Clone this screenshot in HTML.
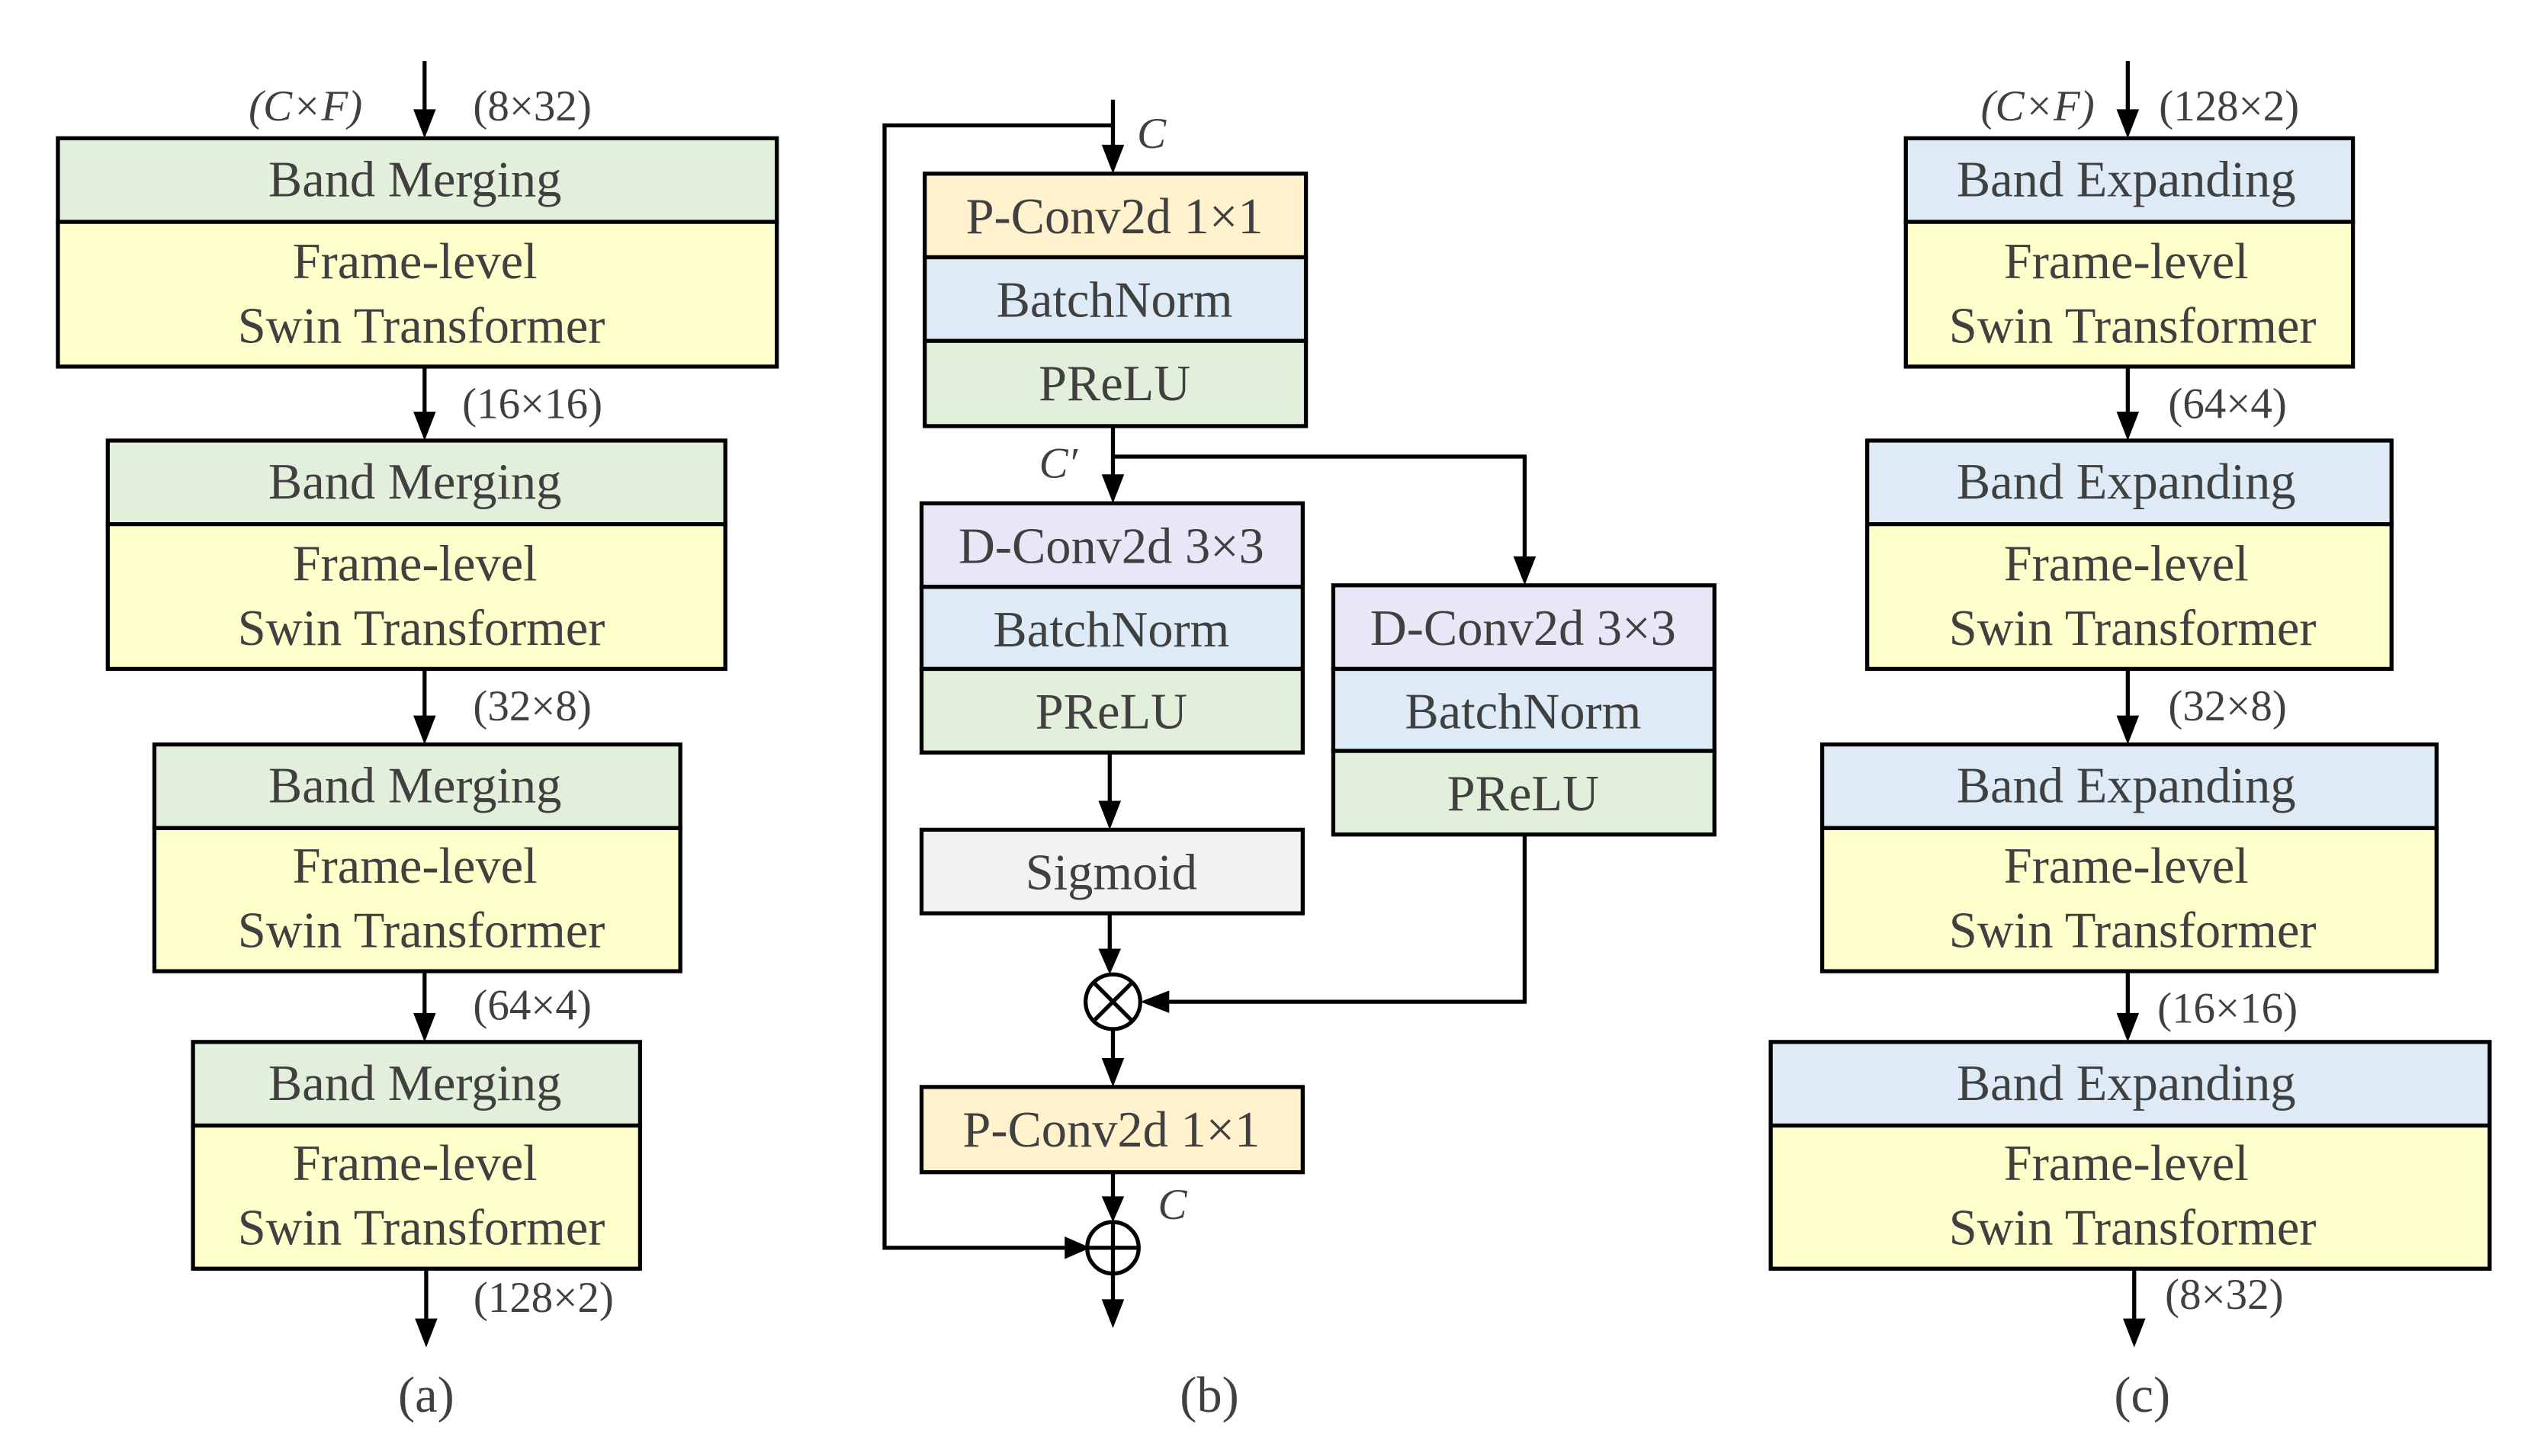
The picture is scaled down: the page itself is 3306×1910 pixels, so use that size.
<!DOCTYPE html>
<html><head><meta charset="utf-8"><style>
html,body{margin:0;padding:0;background:#fff;}
svg{display:block;}
text{font-family:"Liberation Serif",serif;fill:#404040;}
</style></head><body>
<svg width="3306" height="1910" viewBox="0 0 1567.5 905.5" preserveAspectRatio="none" xmlns="http://www.w3.org/2000/svg">
<g stroke="#000" stroke-width="2.5" fill="none">
<line x1="264" y1="38" x2="264" y2="70"/>
<line x1="264" y1="228" x2="264" y2="258"/>
<line x1="264" y1="416" x2="264" y2="447"/>
<line x1="264" y1="604" x2="264" y2="632"/>
<line x1="265" y1="789" x2="265" y2="822"/>
<line x1="1323" y1="38" x2="1323" y2="70"/>
<line x1="1323" y1="228" x2="1323" y2="258"/>
<line x1="1323" y1="416" x2="1323" y2="447"/>
<line x1="1323" y1="604" x2="1323" y2="632"/>
<line x1="1327" y1="789" x2="1327" y2="822"/>
<line x1="692" y1="62" x2="692" y2="92"/>
<polyline points="692,78 550,78 550,776 664,776"/>
<line x1="692" y1="265" x2="692" y2="297"/>
<polyline points="692,284 948,284 948,348"/>
<line x1="690" y1="468" x2="690" y2="500"/>
<line x1="690" y1="568" x2="690" y2="592"/>
<polyline points="948,519 948,623 726,623"/>
<line x1="692" y1="640" x2="692" y2="660"/>
<line x1="692" y1="729" x2="692" y2="746"/>
<line x1="692" y1="792" x2="692" y2="810"/>
</g>
<g fill="#000">
<polygon points="257,68 271,68 264,86"/>
<polygon points="257,256 271,256 264,274"/>
<polygon points="257,445 271,445 264,463"/>
<polygon points="257,630 271,630 264,648"/>
<polygon points="258,820 272,820 265,838"/>
<polygon points="1316,68 1330,68 1323,86"/>
<polygon points="1316,256 1330,256 1323,274"/>
<polygon points="1316,445 1330,445 1323,463"/>
<polygon points="1316,630 1330,630 1323,648"/>
<polygon points="1320,820 1334,820 1327,838"/>
<polygon points="685,90 699,90 692,108"/>
<polygon points="685,295 699,295 692,313"/>
<polygon points="941,346 955,346 948,364"/>
<polygon points="683,498 697,498 690,516"/>
<polygon points="683,590 697,590 690,606"/>
<polygon points="727,616 727,630 709,623"/>
<polygon points="685,658 699,658 692,676"/>
<polygon points="685,744 699,744 692,760"/>
<polygon points="662,769 662,783 678,776"/>
<polygon points="685,808 699,808 692,826"/>
</g>
<g stroke="#000" stroke-width="2.5">
<rect x="36" y="86" width="447" height="52" fill="#e2efda"/><rect x="36" y="138" width="447" height="90" fill="#ffffcc"/>
<rect x="67" y="274" width="384" height="52" fill="#e2efda"/><rect x="67" y="326" width="384" height="90" fill="#ffffcc"/>
<rect x="96" y="463" width="327" height="52" fill="#e2efda"/><rect x="96" y="515" width="327" height="89" fill="#ffffcc"/>
<rect x="120" y="648" width="278" height="52" fill="#e2efda"/><rect x="120" y="700" width="278" height="89" fill="#ffffcc"/>
<rect x="1185" y="86" width="278" height="52" fill="#deebf7"/><rect x="1185" y="138" width="278" height="90" fill="#ffffcc"/>
<rect x="1161" y="274" width="326" height="52" fill="#deebf7"/><rect x="1161" y="326" width="326" height="90" fill="#ffffcc"/>
<rect x="1133" y="463" width="382" height="52" fill="#deebf7"/><rect x="1133" y="515" width="382" height="89" fill="#ffffcc"/>
<rect x="1101" y="648" width="447" height="52" fill="#deebf7"/><rect x="1101" y="700" width="447" height="89" fill="#ffffcc"/>
<rect x="575" y="108" width="237" height="52" fill="#fff2cc"/>
<rect x="575" y="160" width="237" height="52" fill="#deebf7"/>
<rect x="575" y="212" width="237" height="53" fill="#e2efda"/>
<rect x="573" y="313" width="237" height="52" fill="#e9e6f8"/>
<rect x="573" y="365" width="237" height="51" fill="#deebf7"/>
<rect x="573" y="416" width="237" height="52" fill="#e2efda"/>
<rect x="573" y="516" width="237" height="52" fill="#f2f2f2"/>
<rect x="829" y="364" width="237" height="52" fill="#e9e6f8"/>
<rect x="829" y="416" width="237" height="51" fill="#deebf7"/>
<rect x="829" y="467" width="237" height="52" fill="#e2efda"/>
<rect x="573" y="676" width="237" height="53" fill="#fff2cc"/>
<circle cx="692" cy="623" r="17" fill="#fff"/>
<line x1="680" y1="611" x2="704" y2="635"/><line x1="704" y1="611" x2="680" y2="635"/>
<circle cx="692" cy="776" r="16" fill="#fff"/>
<line x1="676" y1="776" x2="708" y2="776"/><line x1="692" y1="760" x2="692" y2="792"/>
</g>
<g font-size="31.5" text-anchor="middle">
<text x="258" y="122">Band Merging</text><text x="258" y="173">Frame-level</text><text x="262" y="213">Swin Transformer</text>
<text x="258" y="310">Band Merging</text><text x="258" y="361">Frame-level</text><text x="262" y="401">Swin Transformer</text>
<text x="258" y="499">Band Merging</text><text x="258" y="549">Frame-level</text><text x="262" y="589">Swin Transformer</text>
<text x="258" y="684">Band Merging</text><text x="258" y="734">Frame-level</text><text x="262" y="774">Swin Transformer</text>
<text x="1322" y="122">Band Expanding</text><text x="1322" y="173">Frame-level</text><text x="1326" y="213">Swin Transformer</text>
<text x="1322" y="310">Band Expanding</text><text x="1322" y="361">Frame-level</text><text x="1326" y="401">Swin Transformer</text>
<text x="1322" y="499">Band Expanding</text><text x="1322" y="549">Frame-level</text><text x="1326" y="589">Swin Transformer</text>
<text x="1322" y="684">Band Expanding</text><text x="1322" y="734">Frame-level</text><text x="1326" y="774">Swin Transformer</text>
<text x="693" y="145">P-Conv2d 1×1</text>
<text x="693" y="197">BatchNorm</text>
<text x="693" y="249">PReLU</text>
<text x="691" y="350">D-Conv2d 3×3</text>
<text x="691" y="402">BatchNorm</text>
<text x="691" y="453">PReLU</text>
<text x="691" y="553">Sigmoid</text>
<text x="947" y="401">D-Conv2d 3×3</text>
<text x="947" y="453">BatchNorm</text>
<text x="947" y="504">PReLU</text>
<text x="691" y="713">P-Conv2d 1×1</text>
<text x="265" y="878">(a)</text><text x="752" y="878">(b)</text><text x="1332" y="878">(c)</text>
</g>
<g font-size="27" text-anchor="middle">
<text x="190" y="75" font-style="italic">(C×F)</text><text x="331" y="75">(8×32)</text>
<text x="331" y="260">(16×16)</text><text x="331" y="448">(32×8)</text><text x="331" y="634">(64×4)</text><text x="338" y="816">(128×2)</text>
<text x="1267" y="75" font-style="italic">(C×F)</text><text x="1386" y="75">(128×2)</text>
<text x="1385" y="260">(64×4)</text><text x="1385" y="448">(32×8)</text><text x="1385" y="636">(16×16)</text><text x="1383" y="814">(8×32)</text>
<text x="716" y="92" font-style="italic">C</text>
<text x="658" y="297" font-style="italic">C′</text>
<text x="729" y="758" font-style="italic">C</text>
</g>
</svg>
</body></html>
